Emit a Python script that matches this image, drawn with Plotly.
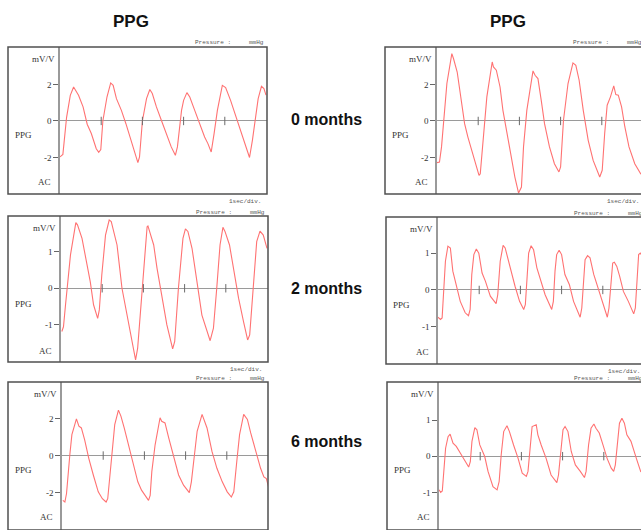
import plotly.graph_objects as go

W, H = 641, 530

# ---------------- data (seconds, mV/V) ----------------
row_labels = ["0 months", "2 months", "6 months"]
col_titles = ["PPG", "PPG"]
ticks_big = [-2, 0, 2]
ticks_small = [-1, 0, 1]
sec_ticks = [1, 2, 3, 4]

# 0 months, left
t_0m_l = [0.0, 0.07, 0.16, 0.25, 0.33, 0.45, 0.56, 0.66, 0.76, 0.88, 0.94, 0.99, 1.04, 1.14, 1.23, 1.29,
          1.37, 1.49, 1.6, 1.73, 1.85, 1.89, 1.93, 2.0, 2.1, 2.18, 2.24, 2.34, 2.46, 2.58, 2.7, 2.8, 2.85,
          2.95, 3.0, 3.08, 3.15, 3.27, 3.39, 3.51, 3.59, 3.67, 3.74, 3.82, 3.94, 4.02, 4.14, 4.26, 4.38,
          4.5, 4.6, 4.67, 4.73, 4.81, 4.89, 4.95, 5.0]
v_0m_l = [-1.97, -1.83, 0.2, 1.4, 1.86, 1.41, 0.77, -0.18, -0.69, -1.52, -1.72, -1.57, 0.0, 1.31, 2.08, 1.95,
          1.22, 0.58, -0.15, -1.06, -1.97, -2.28, -1.97, 0.0, 1.22, 1.72, 1.5, 0.77, 0.04, -0.69, -1.42, -1.88,
          -1.42, 0.58, 1.13, 1.55, 1.31, 0.58, -0.15, -0.88, -1.24, -1.7, -0.69, 0.58, 1.95, 1.83, 1.13, 0.31,
          -0.6, -1.42, -2.0, -1.06, 0.0, 1.22, 1.9, 1.77, 1.41]

# 0 months, right
t_0m_r = [0.0, 0.06, 0.11, 0.16, 0.24, 0.36, 0.4, 0.49, 0.57, 0.67, 0.75, 0.87, 1.02, 1.05, 1.11, 1.21,
          1.34, 1.37, 1.44, 1.53, 1.6, 1.7, 1.8, 1.89, 1.98, 2.05, 2.1, 2.18, 2.25, 2.33, 2.38, 2.45, 2.53,
          2.61, 2.73, 2.85, 2.96, 3.0, 3.07, 3.18, 3.3, 3.37, 3.45, 3.55, 3.67, 3.79, 3.95, 4.01, 4.07,
          4.13, 4.21, 4.29, 4.34, 4.4, 4.48, 4.56, 4.66, 4.8, 4.95]
v_0m_r = [-2.28, -2.25, -1.42, 0.0, 2.05, 3.69, 3.42, 2.68, 1.5, -0.15, -0.88, -1.79, -2.98, -2.89, -1.42, 1.32,
          3.23, 2.96, 2.78, 1.86, 0.58, -0.69, -1.97, -3.07, -3.95, -3.62, -1.42, 0.58, 1.59, 2.74, 2.5, 2.32, 1.13,
          -0.15, -1.42, -2.34, -2.79, -2.52, 0.04, 2.05, 3.18, 3.05, 2.23, 0.58, -1.06, -2.16, -3.07, -2.7, -0.69,
          0.86, 1.32, 1.92, 1.44, 1.41, 0.77, -0.33, -1.42, -2.34, -2.92]

# 2 months, left
t_2m_l = [0.02, 0.06, 0.11, 0.16, 0.23, 0.36, 0.4, 0.51, 0.61, 0.71, 0.79, 0.89, 0.93, 0.99, 1.08, 1.17,
          1.22, 1.28, 1.36, 1.48, 1.6, 1.72, 1.81, 1.86, 1.97, 2.09, 2.11, 2.17, 2.25, 2.33, 2.45, 2.57,
          2.71, 2.76, 2.85, 2.96, 3.02, 3.08, 3.18, 3.3, 3.42, 3.62, 3.7, 3.78, 3.86, 3.93, 3.98, 4.09,
          4.19, 4.31, 4.43, 4.53, 4.58, 4.66, 4.75, 4.83, 4.91, 5.0]
v_2m_l = [-1.18, -1.05, -0.45, 0.18, 0.91, 1.79, 1.73, 1.36, 0.82, 0.18, -0.45, -0.82, -0.59, 0.36, 1.45, 1.86,
          1.82, 1.55, 1.18, 0.0, -0.73, -1.36, -1.95, -1.64, 0.0, 1.68, 1.7, 1.5, 1.18, 0.55, -0.27, -1.0,
          -1.65, -1.45, 0.0, 1.36, 1.62, 1.55, 1.09, 0.18, -0.73, -1.43, -1.09, 0.0, 1.18, 1.66, 1.55, 1.18,
          0.55, -0.27, -0.91, -1.41, -1.27, 0.0, 1.27, 1.56, 1.45, 1.09]

# 2 months, right
t_2m_r = [0.0, 0.06, 0.1, 0.14, 0.18, 0.24, 0.3, 0.36, 0.44, 0.54, 0.66, 0.74, 0.78, 0.82, 0.87, 0.93,
          0.99, 1.07, 1.15, 1.27, 1.41, 1.45, 1.51, 1.58, 1.63, 1.71, 1.79, 1.87, 1.98, 2.08, 2.12, 2.16,
          2.2, 2.26, 2.32, 2.4, 2.48, 2.6, 2.76, 2.8, 2.84, 2.88, 2.94, 3.0, 3.08, 3.19, 3.29, 3.45, 3.49,
          3.53, 3.57, 3.63, 3.69, 3.78, 3.86, 3.98, 4.11, 4.15, 4.2, 4.24, 4.28, 4.34, 4.41, 4.5, 4.62,
          4.75, 4.79, 4.83, 4.87, 4.91, 4.93]
v_2m_r = [-0.74, -0.8, -0.76, -0.13, 0.78, 1.19, 1.14, 0.51, 0.14, -0.31, -0.62, -0.7, -0.53, 0.42, 0.96, 1.11,
          1.0, 0.46, 0.24, -0.17, -0.37, -0.13, 0.78, 1.21, 1.14, 0.78, 0.46, 0.1, -0.31, -0.53, -0.4, 0.42,
          1.0, 1.2, 1.09, 0.6, 0.33, -0.13, -0.53, -0.31, 0.51, 0.96, 1.08, 0.96, 0.42, 0.14, -0.31, -0.74, -0.49,
          0.33, 0.82, 0.93, 0.87, 0.42, 0.14, -0.31, -0.74, -0.49, 0.33, 0.73, 0.75, 0.64, 0.37, -0.04, -0.31,
          -0.65, -0.49, 0.33, 0.96, 1.0, 0.96]

# 6 months, left
t_6m_l = [0.02, 0.07, 0.11, 0.15, 0.19, 0.24, 0.35, 0.41, 0.47, 0.55, 0.65, 0.76, 0.88, 0.98, 1.07, 1.11,
          1.16, 1.24, 1.28, 1.37, 1.43, 1.51, 1.61, 1.73, 1.84, 1.93, 2.1, 2.14, 2.18, 2.26, 2.38, 2.42,
          2.5, 2.59, 2.71, 2.83, 2.95, 3.09, 3.14, 3.2, 3.28, 3.4, 3.44, 3.52, 3.64, 3.76, 3.89, 4.01,
          4.11, 4.17, 4.25, 4.31, 4.41, 4.5, 4.58, 4.7, 4.82, 4.9, 4.96, 5.02]
v_6m_l = [-2.42, -2.51, -2.05, -0.87, 0.04, 1.13, 1.98, 1.58, 1.49, 0.85, -0.15, -1.05, -1.96, -2.33, -2.51, -2.33,
          -1.05, 0.85, 1.67, 2.45, 2.13, 1.49, 0.58, -0.51, -1.42, -1.87, -2.42, -2.15, -0.87, 0.58, 2.04, 1.85,
          1.76, 0.95, -0.05, -1.05, -1.6, -2.0, -1.42, -0.15, 1.31, 2.22, 1.95, 1.49, 0.22, -0.69, -1.42, -1.96,
          -2.24, -1.96, -0.15, 1.13, 2.22, 1.95, 1.22, 0.22, -0.69, -1.15, -1.24, -1.75]

# 6 months, right
t_6m_r = [0.0, 0.04, 0.08, 0.11, 0.16, 0.22, 0.27, 0.34, 0.42, 0.52, 0.62, 0.72, 0.76, 0.8, 0.87, 0.92,
          0.99, 1.11, 1.19, 1.31, 1.41, 1.46, 1.51, 1.57, 1.65, 1.71, 1.81, 1.92, 2.02, 2.12, 2.16, 2.22,
          2.26, 2.36, 2.4, 2.48, 2.6, 2.72, 2.86, 2.9, 2.97, 3.01, 3.06, 3.13, 3.21, 3.31, 3.43, 3.53,
          3.57, 3.63, 3.69, 3.76, 3.81, 3.89, 3.98, 4.08, 4.18, 4.24, 4.28, 4.34, 4.38, 4.44, 4.5, 4.56,
          4.66, 4.79, 4.87, 4.9]
v_6m_r = [-0.93, -1.0, -0.96, -0.52, 0.22, 0.54, 0.61, 0.36, 0.27, 0.08, -0.1, -0.3, -0.15, 0.41, 0.79, 0.73,
          0.31, -0.01, -0.42, -0.84, -0.93, -0.7, 0.04, 0.68, 0.84, 0.68, 0.31, -0.06, -0.47, -0.56, -0.42, 0.41,
          0.82, 0.87, 0.59, 0.31, -0.06, -0.52, -0.73, -0.52, 0.22, 0.73, 0.82, 0.68, 0.13, -0.24, -0.42, -0.59,
          -0.42, 0.31, 0.77, 0.89, 0.77, 0.64, 0.31, -0.06, -0.33, -0.42, -0.24, 0.5, 0.91, 1.05, 0.91, 0.59,
          0.41, -0.06, -0.38, -0.44]

# ---------------- layout geometry (pixels) ----------------
PX_PER_SEC = 41.2
panels = [
    dict(t=t_0m_l, v=v_0m_l, ticks=ticks_big, yr=[-4.0, 4.05], fl=8, ax=60, fr=267, top=47, bot=194, sec=True),
    dict(t=t_0m_r, v=v_0m_r, ticks=ticks_big, yr=[-4.0, 4.05], fl=385, ax=437, fr=645, top=47, bot=194, sec=True),
    dict(t=t_2m_l, v=v_2m_l, ticks=ticks_small, yr=[-2.01, 1.97], fl=8, ax=61, fr=268, top=216, bot=362, sec=True),
    dict(t=t_2m_r, v=v_2m_r, ticks=ticks_small, yr=[-2.01, 1.98], fl=386, ax=438, fr=646, top=217, bot=364, sec=True),
    dict(t=t_6m_l, v=v_6m_l, ticks=ticks_big, yr=[-4.02, 3.97], fl=8, ax=62, fr=268, top=382, bot=530, sec=False),
    dict(t=t_6m_r, v=v_6m_r, ticks=ticks_small, yr=[-2.04, 2.05], fl=387, ax=439, fr=646, top=382, bot=530, sec=False),
]

TRACE = "#ff7272"
AXIS = "#9a9a9a"
FRAME = "#505050"
SERIF = "Liberation Serif, Times New Roman, serif"
MONO = "Liberation Mono, Courier New, monospace"
SANS = "Liberation Sans, Arial, sans-serif"

fig = go.Figure()
shapes, annotations = [], []
layout_axes = {}


def px(x):
    return x / W


def py(y):
    return 1 - y / H


for i, p in enumerate(panels, start=1):
    xa = "x" if i == 1 else f"x{i}"
    ya = "y" if i == 1 else f"y{i}"
    right = min(p["fr"], W)
    xmax = (right - p["ax"]) / PX_PER_SEC
    fig.add_trace(go.Scatter(x=p["t"], y=p["v"], mode="lines", xaxis=xa, yaxis=ya,
                             line=dict(color=TRACE, width=1.1), hoverinfo="skip", showlegend=False))
    fig.add_trace(go.Scatter(x=sec_ticks, y=[0] * len(sec_ticks), mode="markers", xaxis=xa, yaxis=ya,
                             marker=dict(symbol="line-ns", size=6, line=dict(color="#6a6a6a", width=1)),
                             hoverinfo="skip", showlegend=False))
    xkey = "xaxis" if i == 1 else f"xaxis{i}"
    ykey = "yaxis" if i == 1 else f"yaxis{i}"
    layout_axes[xkey] = dict(domain=[px(p["ax"]), px(right)], range=[0, xmax], visible=False,
                             anchor=ya, fixedrange=True)
    layout_axes[ykey] = dict(domain=[max(0, py(p["bot"])), py(p["top"])], range=p["yr"], anchor=xa,
                             showline=True, linecolor=AXIS, linewidth=1.5, showgrid=False,
                             zeroline=True, zerolinecolor=AXIS, zerolinewidth=1.2,
                             tickvals=p["ticks"], ticktext=[str(v) for v in p["ticks"]],
                             ticks="outside", ticklen=5, tickcolor="#666",
                             tickwidth=1, tickfont=dict(family=SERIF, size=9, color="#333"),
                             fixedrange=True)
    # frame
    shapes.append(dict(type="rect", xref="paper", yref="paper", x0=px(p["fl"]), x1=px(p["fr"]),
                       y0=py(p["bot"]), y1=py(p["top"]), line=dict(color=FRAME, width=1.5)))
    # labels inside frame
    for txt, dy, dx in (("mV/V", 12, -3), ("PPG", 88, None), ("AC", 135, -7)):
        if dx is None:
            annotations.append(dict(text=txt, xref="paper", yref="paper", x=px(p["fl"] + 5), xanchor="left",
                                    y=py(p["top"] + dy), yanchor="middle", showarrow=False,
                                    font=dict(family=SERIF, size=9, color="#333")))
        else:
            annotations.append(dict(text=txt, xref="paper", yref="paper", x=px(p["ax"] + dx), xanchor="right",
                                    y=py(p["top"] + dy), yanchor="middle", showarrow=False,
                                    font=dict(family=SERIF, size=9, color="#333")))
    # header text above frame
    annotations.append(dict(text="Pressure :", xref="paper", yref="paper", x=px(p["fr"] - 34), xanchor="right",
                            y=py(p["top"] - 4), yanchor="middle", showarrow=False,
                            font=dict(family=MONO, size=6, color="#555")))
    annotations.append(dict(text="mmHg", xref="paper", yref="paper", x=px(p["fr"] - 1), xanchor="right",
                            y=py(p["top"] - 4), yanchor="middle", showarrow=False,
                            font=dict(family=MONO, size=6, color="#555")))
    # 1sec/div below frame
    if p["sec"]:
        annotations.append(dict(text="1sec/div.", xref="paper", yref="paper", x=px(p["fr"] - 4), xanchor="right",
                                y=py(p["bot"] + 7), yanchor="middle", showarrow=False,
                                font=dict(family=MONO, size=6, color="#555")))

# column titles
for txt, cx in zip(col_titles, (131, 508)):
    annotations.append(dict(text=f"<b>{txt}</b>", xref="paper", yref="paper", x=px(cx), y=py(22),
                            xanchor="center", yanchor="middle", showarrow=False,
                            font=dict(family=SANS, size=17, color="#111")))
# row labels
for txt, cy in zip(row_labels, (120, 288, 441)):
    annotations.append(dict(text=f"<b>{txt}</b>", xref="paper", yref="paper", x=px(326), y=py(cy),
                            xanchor="center", yanchor="middle", showarrow=False,
                            font=dict(family=SANS, size=16, color="#111")))

fig.update_layout(width=W, height=H, margin=dict(l=0, r=0, t=0, b=0), paper_bgcolor="white",
                  plot_bgcolor="rgba(0,0,0,0)", shapes=shapes, annotations=annotations, **layout_axes)

fig.write_html("out.html", config={"displayModeBar": False},
               post_script="document.body.style.margin='0';document.body.style.overflow='hidden';")
